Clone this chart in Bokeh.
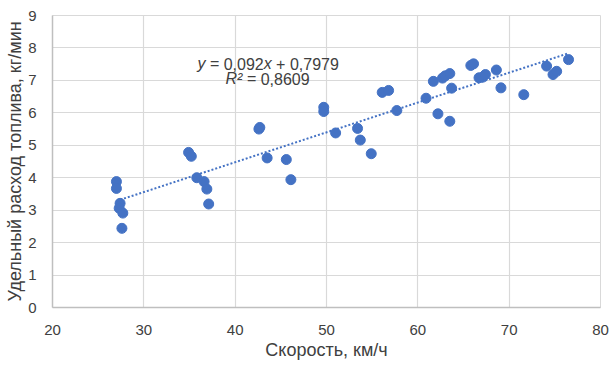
from bokeh.plotting import figure
from bokeh.models import Range1d, FixedTicker, Label
from bokeh.embed import file_html
from bokeh.resources import INLINE

speed = [27.0, 27.0, 27.4, 27.3, 27.7, 27.6, 34.9, 35.2, 35.8, 36.6, 36.9, 37.1,
         42.6, 42.7, 43.5, 45.6, 46.1, 49.7, 49.7, 51.0, 53.4, 53.7, 54.9, 56.1,
         56.8, 57.7, 60.9, 61.7, 62.2, 62.7, 63.0, 63.5, 63.5, 63.7, 65.8, 66.1,
         66.7, 67.1, 67.4, 68.6, 69.1, 71.6, 74.1, 74.8, 75.2, 76.5]
fuel = [3.88, 3.67, 3.21, 3.06, 2.91, 2.44, 4.78, 4.66, 4.00, 3.88, 3.65, 3.19,
        5.50, 5.55, 4.61, 4.56, 3.94, 6.17, 6.04, 5.38, 5.52, 5.16, 4.74, 6.63,
        6.69, 6.07, 6.45, 6.97, 5.97, 7.07, 7.14, 7.21, 5.74, 6.76, 7.46, 7.51,
        7.08, 7.10, 7.18, 7.32, 6.77, 6.56, 7.44, 7.18, 7.28, 7.64]
slope = 0.092
intercept = 0.7979
x_ticks = [20, 30, 40, 50, 60, 70, 80]
y_ticks = [0, 1, 2, 3, 4, 5, 6, 7, 8, 9]

BLUE = "#4472C4"
FONT = "Liberation Sans"
TXT = "#404040"

p = figure(width=611, height=365, output_backend="svg", toolbar_location=None,
           x_range=Range1d(20, 80), y_range=Range1d(0, 9),
           min_border_left=52, min_border_right=11, min_border_top=15, min_border_bottom=58)
p.background_fill_color = "white"
p.border_fill_color = "white"
p.outline_line_color = "#D9D9D9"
p.outline_line_width = 1

for ax in (p.xaxis[0], p.yaxis[0]):
    ax.major_tick_line_color = None
    ax.minor_tick_line_color = None
    ax.axis_line_color = "#BFBFBF"
    ax.axis_line_width = 1.5
    ax.major_label_text_font = FONT
    ax.major_label_text_font_size = "15px"
    ax.major_label_text_color = TXT
    ax.axis_label_text_font = FONT
    ax.axis_label_text_font_size = "18px"
    ax.axis_label_text_font_style = "normal"
    ax.axis_label_text_color = TXT

p.xaxis.ticker = FixedTicker(ticks=x_ticks)
p.yaxis.ticker = FixedTicker(ticks=y_ticks)
p.xaxis.axis_label = "Скорость, км/ч"
p.yaxis.axis_label = "Удельный расход топлива, кг/мин"
p.xaxis.major_label_standoff = 11
p.xaxis.axis_label_standoff = 2
p.yaxis.major_label_standoff = 10
p.yaxis.axis_label_standoff = 0

p.xgrid.ticker = FixedTicker(ticks=x_ticks)
p.ygrid.ticker = FixedTicker(ticks=y_ticks)
p.xgrid.grid_line_color = "#D9D9D9"
p.ygrid.grid_line_color = "#D9D9D9"
p.xgrid.grid_line_width = 1.2
p.ygrid.grid_line_width = 1.2

# trend line
x0, x1 = min(speed), max(speed)
p.line([x0, x1], [slope * x0 + intercept, slope * x1 + intercept],
       line_color=BLUE, line_width=2, line_dash="2 2")

p.scatter(speed, fuel, size=10, fill_color=BLUE, line_color=BLUE)

# equation annotation (pixel positions converted to data coordinates)
def dx(px):
    return 20 + (px - 52) / 548 * 60

def dy(py):
    return (307 - py) / 292 * 9

F = 16
L1, L2 = 63, 78
pieces = [
    ("y", 197, L1, "italic"),
    ("=", 209.4, L1, "normal"),
    ("0,092", 223.2, L1, "normal"),
    ("x", 263.2, L1, "italic"),
    ("+", 275.6, L1, "normal"),
    ("0,7979", 289.4, L1, "normal"),
    ("R²", 225, L2, "italic"),
    ("=", 246.4, L2, "normal"),
    ("0,8609", 260.2, L2, "normal"),
]
for t, px, py, st in pieces:
    p.add_layout(Label(x=dx(px), y=dy(py), text=t, text_font=FONT,
                       text_font_size=f"{F}px", text_font_style=st,
                       text_color=TXT, text_align="left",
                       text_baseline="alphabetic"))

open("out.html", "w").write(file_html(p, INLINE))
